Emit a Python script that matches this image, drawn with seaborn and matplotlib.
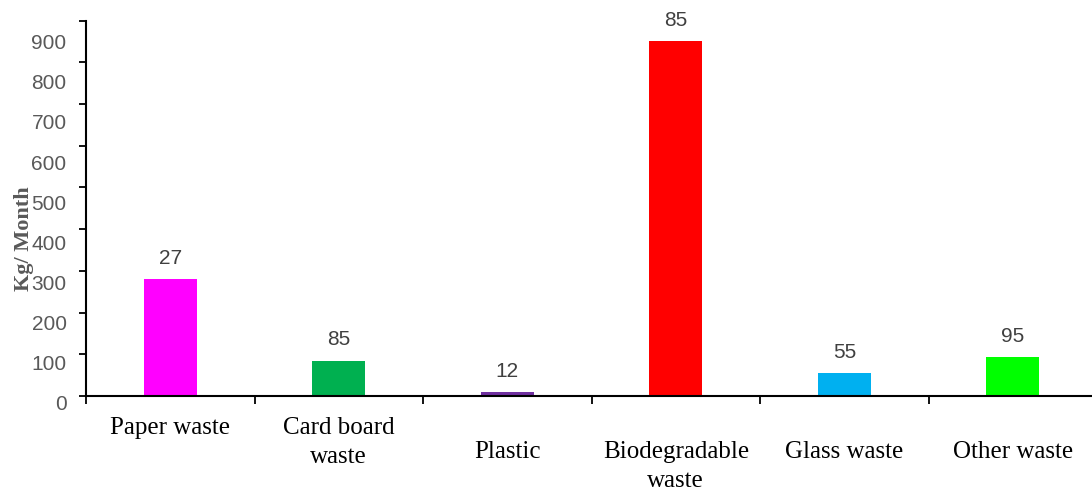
import matplotlib
matplotlib.use("Agg")
import matplotlib.pyplot as plt
import matplotlib.transforms as mtransforms
import seaborn as sns
import pandas as pd

# Monthly waste quantities by category
categories = ["Paper waste", "Card board\nwaste", "Plastic",
              "Biodegradable\nwaste", "Glass waste", "Other waste"]
values = [280, 85, 10, 850, 54, 94]
value_labels = ["27", "85", "12", "85", "55", "95"]
colors = ["#FF00FF", "#00B050", "#7030A0", "#FF0000", "#00B0F0", "#00FF00"]
y_ticks = [0, 100, 200, 300, 400, 500, 600, 700, 800, 900]
y_tick_labels = ["0", "100", "200", "300", "400", "500", "600", "700", "800", "900"]

df = pd.DataFrame({"category": categories, "value": values})

sns.set_theme(style="white")
plt.rcParams["font.family"] = ["Liberation Sans", "DejaVu Sans"]

fig = plt.figure(figsize=(10.92, 4.91), dpi=100)
ax = fig.add_axes([0.0788, 0.1935, 0.9212, 0.7645])

sns.barplot(data=df, x="category", y="value", hue="category",
            palette=colors, width=0.316, legend=False, ax=ax,
            saturation=1, linewidth=0)

ax.set_ylim(0, 900)
ax.set_xlim(-0.5, 5.47)

# value annotations above each bar
for i, (v, txt) in enumerate(zip(values, value_labels)):
    ax.annotate(txt, xy=(i, v), xytext=(0, 8), textcoords="offset points",
                ha="center", va="bottom", fontsize=15, color="#404040")

# y axis
ax.set_yticks(y_ticks)
ax.set_yticklabels(y_tick_labels, fontsize=15, color="#595959")
ax.tick_params(axis="y", which="major", direction="out", length=5, width=1.3,
               color="black", pad=9, left=True)
# tick labels sit a little below their ticks, drifting further toward the top
nlab = len(y_ticks)
for i, lab in enumerate(ax.get_yticklabels()):
    dy = -(7 + 14 * i / (nlab - 1)) / 100
    lab.set_transform(lab.get_transform() +
                      mtransforms.ScaledTranslation(0, dy, fig.dpi_scale_trans))

ax.set_ylabel("Kg/ Month", fontsize=16, fontweight="bold", color="#595959",
              family=["Liberation Serif", "DejaVu Serif"])
ax.yaxis.set_label_coords(-0.052, 0.42)

# x axis: ticks at category boundaries, labels at centres
n = len(categories)
ax.set_xticks([i - 0.5 for i in range(n)])
ax.set_xticklabels([""] * n)
ax.tick_params(axis="x", which="major", direction="out", length=6, width=1.3,
               color="black", bottom=True)
ax.set_xticks(list(range(n)), minor=True)
ax.set_xticklabels(categories, minor=True, fontsize=18, color="black",
                   family=["Liberation Serif", "DejaVu Serif"],
                   linespacing=1.4, va="top")
ax.tick_params(axis="x", which="minor", length=0, pad=15)
ax.set_xlabel("")

# lower row for the later category labels
for i, lab in enumerate(ax.get_xticklabels(minor=True)):
    if i >= 2:
        offset = mtransforms.ScaledTranslation(0, -24 / 100, fig.dpi_scale_trans)
        lab.set_transform(lab.get_transform() + offset)

for side in ["top", "right"]:
    ax.spines[side].set_visible(False)
for side in ["left", "bottom"]:
    ax.spines[side].set_color("black")
    ax.spines[side].set_linewidth(1.5)

fig.savefig("out.png", dpi=100)
